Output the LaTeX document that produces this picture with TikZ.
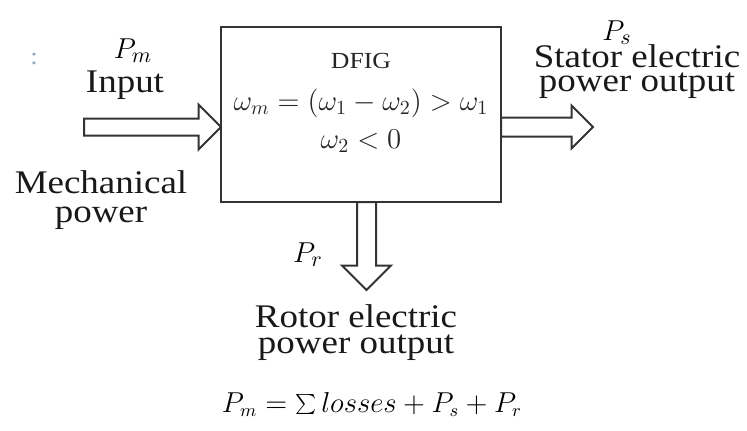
\documentclass[tikz,border=0pt]{standalone}
\usepackage{fontspec}
\setmainfont{Liberation Serif}[FakeStretch=1.12]
\usepackage{tikz}
\usetikzlibrary{shapes.arrows, positioning}
\definecolor{speck}{RGB}{150,165,185}

\begin{document}
\begin{tikzpicture}[
  x=0.5pt, y=-0.5pt,
  blk/.style={draw=black!80, line width=1.25pt, minimum width=140pt, minimum height=87.5pt, inner sep=0pt, outer sep=0pt},
  blockarr/.style={single arrow, draw=black!80, line width=1pt, fill=white, outer sep=0pt,
    minimum width=0pt, single arrow tip angle=90, single arrow head indent=0pt},
  lbl/.style={align=center, inner sep=0pt, text=black!90},
  sym/.style={font=\fontsize{15}{18}\selectfont, inner sep=0pt, anchor=base},
  inbox/.style={font=\fontsize{14}{16}\selectfont, inner sep=0pt, anchor=base, text=black!85},
]
\useasboundingbox (0,0) rectangle (747,430);

% generator block
\node[blk] (dfig) at (361,114.5) {};
\node[inbox, font=\fontsize{11.5}{13}\selectfont] (name) at (361,68) {DFIG};
\node[inbox] (speed) at (361,110) {$\omega_m=(\omega_1-\omega_2)>\omega_1$};
\node[inbox] (slip) at (361,148) {$\omega_2<0$};

% power flows
\node[blockarr, minimum height=68.5pt, inner sep=3.75pt, single arrow head extend=7pt,
  anchor=tip] (inarr) at ([yshift=-6.25pt]dfig.west) {};
\node[blockarr, minimum height=46pt, inner sep=4.25pt, single arrow head extend=6pt,
  anchor=tail] (statarr) at ([yshift=-6.25pt]dfig.east) {};
\node[blockarr, minimum height=44pt, inner sep=4.25pt, single arrow head extend=7.5pt,
  shape border rotate=270, anchor=tail] (rotarr) at ([xshift=2.75pt]dfig.south) {};

% input side
\node[text=speck, font=\fontsize{12}{14}\selectfont] (speck) at (34,59) {:};
\node[sym] (pm) at (133,58) {$P_m$};
\node[lbl, anchor=base, font=\fontsize{16.5}{14.5}\selectfont] (input) at (125,92) {Input};
\node[lbl, font=\fontsize{16.5}{14.5}\selectfont] (mech) at (101,200) {Mechanical\\power};

% stator side
\node[sym] (ps) at (617,40) {$P_s$};
\node[lbl, font=\fontsize{16.5}{12}\selectfont] (stat) at (637,72) {Stator electric\\power output};

% rotor side
\node[sym] (pr) at (308,262) {$P_r$};
\node[lbl, font=\fontsize{16.5}{13}\selectfont] (rot) at (356,333) {Rotor electric\\power output};

% balance
\node[sym, font=\fontsize{13.5}{16}\selectfont] (bal) at (372,412) {$P_m=\sum losses+P_s+P_r$};
\end{tikzpicture}
\end{document}
